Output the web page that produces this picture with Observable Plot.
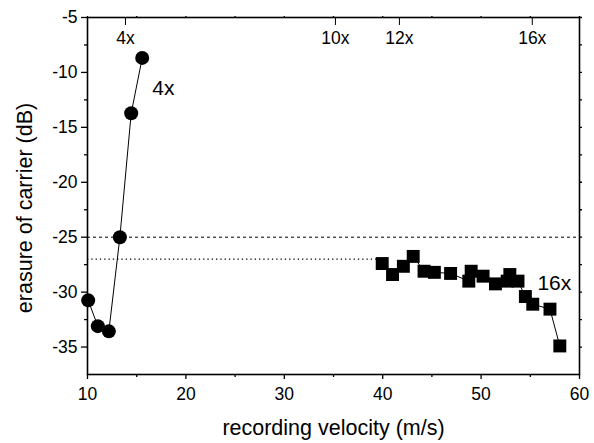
<!DOCTYPE html>
<html><head><meta charset="utf-8">
<script src="https://cdn.jsdelivr.net/npm/d3@7"></script>
<script src="https://cdn.jsdelivr.net/npm/@observablehq/plot@0.6"></script>
<style>
body{margin:0;background:#fff}
svg{font-family:Arial,"Liberation Sans",sans-serif}
</style>
</head><body><div id="chart"></div>
<script>
// 4x series (circles)
const circleX = [10.07, 11.05, 12.17, 13.29, 14.44, 15.56];
const circleY = [-30.75, -33.1, -33.57, -25.0, -13.72, -8.68];
// 16x series (squares)
const squareX = [39.95, 41.0, 42.1, 43.1, 44.2, 45.25, 46.9, 48.75, 48.99, 50.2, 51.46, 52.65, 52.92, 53.75, 54.5, 55.25, 57.0, 58.0];
const squareY = [-27.4, -28.4, -27.65, -26.75, -28.1, -28.2, -28.3, -29.0, -28.1, -28.55, -29.25, -29.0, -28.4, -29.0, -30.4, -31.1, -31.55, -34.9];
// axes
const xTicks = [10, 20, 30, 40, 50, 60];
const xMinorTicks = [15, 25, 35, 45, 55];
const yTicks = [-35, -30, -25, -20, -15, -10, -5];
const yMinorTicks = [-32.5, -27.5, -22.5, -17.5, -12.5, -7.5];
const speedLabels = ["4x", "10x", "12x", "16x"];
const speedX = [13.86, 35.2, 41.7, 55.2];
// reference levels
const dashedLevel = [-25];
const dottedLevel = [-27];
const dottedEnd = 39.5;
// annotations
const noteText = ["4x", "16x"];
const noteX = [17.72, 57.44];
const noteY = [-11.44, -29.2];

const circles = circleX.map((x, i) => ({x, y: circleY[i]}));
const squares = squareX.map((x, i) => ({x, y: squareY[i]}));
const speeds = speedX.map((x, i) => ({x, label: speedLabels[i]}));
const notes = noteText.map((t, i) => ({t, x: noteX[i], y: noteY[i]}));
const blank = () => "";

const chart = Plot.plot({
  width: 594,
  height: 443,
  marginLeft: 87,
  marginRight: 15,
  marginTop: 17,
  marginBottom: 69,
  style: {fontSize: "17px", color: "black", background: "white"},
  x: {domain: [10, 60]},
  y: {domain: [-37.5, -5]},
  marks: [
    Plot.ruleY(dashedLevel, {stroke: "black", strokeWidth: 1, strokeDasharray: "3,3"}),
    Plot.ruleY(dottedLevel, {x1: 10, x2: dottedEnd, stroke: "black", strokeWidth: 1.1, strokeDasharray: "1.3,3"}),
    Plot.line(circles, {x: "x", y: "y", stroke: "black", strokeWidth: 1}),
    Plot.dot(circles, {x: "x", y: "y", r: 7, fill: "black", stroke: "none"}),
    Plot.line(squares, {x: "x", y: "y", stroke: "black", strokeWidth: 1}),
    Plot.dot(squares, {x: "x", y: "y", r: 7.3, symbol: "square", fill: "black", stroke: "none"}),
    Plot.text(notes, {x: "x", y: "y", text: "t", fontSize: 21, fill: "black"}),
    // bottom axis
    Plot.axisX({ticks: xTicks, tickSize: 5, tickPadding: 8, tickFormat: d => String(d), label: null, fontSize: 17.5, strokeWidth: 1.3}),
    Plot.axisX({ticks: xMinorTicks, tickSize: 3, tickFormat: blank, label: null, strokeWidth: 1.3}),
    // left axis
    Plot.axisY({ticks: yTicks, tickSize: 6, tickPadding: 4, tickFormat: d => String(d), label: null, fontSize: 17.5, strokeWidth: 1.3}),
    Plot.axisY({ticks: yMinorTicks, tickSize: 3, tickFormat: blank, label: null, strokeWidth: 1.3}),
    // right axis
    Plot.axisY({anchor: "right", ticks: yTicks.concat(yMinorTicks), tickSize: 2, tickFormat: blank, label: null, strokeWidth: 1.3}),
    // top axis
    Plot.axisX({anchor: "top", ticks: xTicks.concat(xMinorTicks), tickSize: 2, tickFormat: blank, label: null, strokeWidth: 1.3}),
    Plot.axisX({anchor: "top", ticks: speedX, tickSize: -7, tickFormat: blank, label: null, strokeWidth: 1}),
    Plot.text(speeds, {x: "x", frameAnchor: "top", lineAnchor: "middle", dy: 21, text: "label", fontSize: 17.5, fill: "black"}),
    Plot.frame({stroke: "black", strokeWidth: 1.6}),
    // axis titles
    Plot.text(["recording velocity (m/s)"], {frameAnchor: "bottom", lineAnchor: "middle", dy: 54, text: d => d, fontSize: 21.5, fill: "black"}),
    Plot.text(["erasure of carrier (dB)"], {frameAnchor: "left", textAnchor: "middle", lineAnchor: "middle", dx: -62, dy: 12, rotate: -90, text: d => d, fontSize: 21.5, fill: "black"})
  ]
});
document.getElementById("chart").appendChild(chart);
</script>
</body></html>
